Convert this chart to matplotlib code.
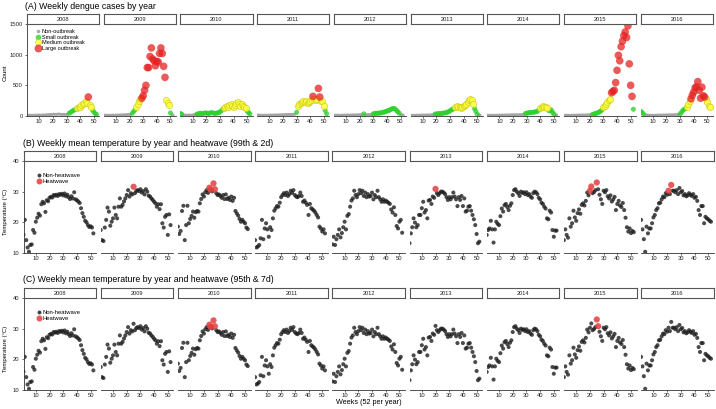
import numpy as np
import matplotlib.pyplot as plt
from matplotlib.lines import Line2D

plt.rcParams['font.family'] = ['Liberation Sans', 'DejaVu Sans']

years = [2008, 2009, 2010, 2011, 2012, 2013, 2014, 2015, 2016]
weeks = np.arange(1, 53)
week_ticks = [10, 20, 30, 40, 50]

# --- weekly dengue cases ---
cases_2008 = [12, 10, 14, 11, 9, 13, 12, 15, 14, 16, 13, 15, 18, 17, 20, 19, 22, 25, 24, 28,
              30, 26, 28, 32, 30, 27, 25, 28, 24, 26, 30,
              45, 60, 75, 90, 100, 110, 125, 140, 150, 175, 195, 220, 240, 210, 310, 175, 150,
              100, 70, 40, 25]
cases_2009 = [15, 12, 14, 10, 12, 11, 13, 15, 12, 14, 16, 15, 18, 17, 20, 18, 22, 21, 25, 24, 28,
              45, 75, 100, 150, 200, 240, 270,
              290, 330, 420, 500, 790, 790, 970, 1110, 930, 900, 820, 890, 880, 1020, 1110, 1020,
              810, 630,
              260, 220, 175, 50, 20, 15]
cases_2010 = [40, 30,
              18, 15, 14, 12, 16, 15, 13, 17, 20, 22,
              30, 35, 40, 45, 38, 42, 50, 48, 45, 40, 52, 55, 48, 42, 45, 50, 55,
              65, 85, 105,
              125, 145, 165, 150, 175, 190, 160, 140, 185, 215, 230, 200, 165, 195, 170, 140, 125,
              80, 55, 35]
cases_2011 = [18, 15, 14, 12, 13, 11, 14, 12, 15, 13, 16, 14, 15, 17, 16, 18, 17, 20, 19, 22,
              20, 24, 22, 25, 23, 26, 24, 28, 30,
              60,
              160, 190, 220, 235, 250, 225, 240, 215, 230, 240, 260,
              320, 270, 260, 280, 450, 310,
              250, 240, 160, 90, 35]
cases_2012 = [15, 12, 14, 13, 11, 12, 14, 13, 15, 14, 16, 15, 17, 16, 18, 17, 19, 18, 20, 19,
              22, 21, 35, 22, 20, 23, 21, 24, 25,
              35, 40, 45, 42, 50, 45, 55, 60, 65, 70, 80, 90, 95, 110, 120, 125, 115, 90, 70, 45,
              25, 20, 15]
cases_2013 = [15, 12, 13, 11, 12, 14, 13, 15, 14, 16, 15, 17, 16, 18, 17, 20, 19, 22,
              30, 35, 35, 40, 40, 45, 45, 50, 55, 60, 70, 85, 100, 110, 120,
              140, 160, 150, 140, 130, 150, 160, 180, 200, 230, 265, 280, 255, 200,
              120, 75, 30, 20, 15]
cases_2014 = [14, 12, 13, 11, 12, 10, 13, 12, 14, 13, 15, 14, 16, 15, 17, 16, 18, 17, 19, 18,
              20, 19, 21, 20, 22, 21, 24, 25,
              40, 45, 50, 55, 55, 60, 60, 65, 70, 80, 100,
              130, 150, 160, 150, 140, 130,
              90, 85, 100, 60, 30, 20, 15]
cases_2015 = [14, 12, 13, 11, 12, 10, 13, 12, 14, 13, 15, 14, 16, 15, 17, 16, 18, 17, 19, 20, 22,
              25, 30, 40, 45, 55, 65, 80, 100,
              150, 170, 200, 230, 260, 280,
              380, 400, 420, 545, 745, 990, 900, 1130, 1220, 1310, 1370, 1280, 1470, 850, 500, 320,
              110]
cases_2016 = [80, 60, 35,
              20, 18, 15, 14, 12, 13, 11, 12, 14, 13, 15, 14, 16, 15, 17, 16, 18, 17, 19, 18,
              20, 19, 21, 22, 24, 25,
              35, 60, 90, 110, 120,
              150, 190, 250,
              280, 340, 390, 460, 475, 560, 420, 290, 470, 330, 310,
              270, 230, 160, 150]

# outbreak level per week: n = non, s = small, m = medium, l = large
levels_2008 = 'n' * 31 + 's' * 6 + 'm' * 8 + 'l' + 'm' * 2 + 's' * 4
levels_2009 = 'n' * 21 + 's' * 3 + 'm' * 4 + 'l' * 18 + 'm' * 3 + 's' + 'n' * 2
levels_2010 = 's' * 2 + 'n' * 10 + 's' * 20 + 'm' * 17 + 's' * 3
levels_2011 = 'n' * 29 + 's' + 'm' * 11 + 'l' + 'm' * 3 + 'l' * 2 + 'm' * 3 + 's' * 2
levels_2012 = 'n' * 22 + 's' + 'n' * 6 + 's' * 20 + 'n' * 3
levels_2013 = 'n' * 18 + 's' * 15 + 'm' * 14 + 's' * 3 + 'n' * 2
levels_2014 = 'n' * 28 + 's' * 11 + 'm' * 6 + 's' * 5 + 'n' * 2
levels_2015 = 'n' * 21 + 's' * 8 + 'm' * 6 + 'l' * 16 + 's'
levels_2016 = 's' * 3 + 'n' * 26 + 's' * 5 + 'm' * 3 + 'l' * 11 + 'm' * 4

# --- weekly mean temperature (deg C) ---
temp_2008 = [16.0, 20.8, 14.2, 11.8, 10.4, 12.6, 12.8, 17.5, 16.6, 20.2, 21.5, 22.8, 22.2, 25.9,
             26.7, 26.2, 23.4, 27.2, 26.9, 28.0, 28.3, 28.1, 28.9, 28.7, 29.0, 28.6, 29.2, 29.0,
             29.3, 28.8, 29.4, 28.5, 29.0, 28.2, 27.6, 28.5, 27.8, 29.8, 27.5, 27.2, 26.8, 26.3,
             24.6, 23.0, 21.8, 20.5, 20.0, 19.1, 18.5, 18.7, 18.3, 16.4]
temp_2009 = [17.5, 14.2, 13.9, 18.3, 20.8, 24.8, 23.5, 18.9, 20.2, 21.3, 24.8, 22.4, 21.3, 25.1,
             27.8, 25.1, 25.7, 26.8, 27.8, 28.9, 30.5, 28.4, 29.5, 29.1, 31.6, 29.5, 30.2, 30.5,
             30.2, 30.8, 29.7, 30.2, 29.1, 30.8, 30.0, 28.7, 28.4, 27.8, 27.3, 26.7, 26.2, 25.1,
             25.9, 24.3, 25.9, 19.7, 18.3, 21.8, 22.4, 15.9, 22.6, 19.1]
temp_2010 = [18.6, 16.2, 17.2, 23.7, 25.4, 14.2, 19.1, 25.4, 19.7, 21.1, 22.1, 23.5, 21.5, 23.3,
             23.7, 23.5, 26.2, 27.6, 29.1, 28.4, 29.8, 30.5, 29.6, 31.3, 30.6, 30.1, 32.7, 30.8,
             29.5, 28.9, 29.1, 28.6, 28.0, 28.9, 27.6, 29.1, 27.6, 28.0, 27.3, 28.4, 27.0, 28.0,
             23.7, 22.9, 22.2, 21.1, 20.2, 20.8, 20.2, 19.7, 18.3, 17.8]
temp_2011 = [14.2, 11.8, 12.1, 12.6, 14.8, 20.8, 14.5, 18.0, 19.7, 17.7, 15.3, 18.4, 17.5, 21.3,
             23.8, 24.6, 25.3, 25.1, 26.4, 28.2, 28.9, 29.5, 28.9, 29.7, 28.6, 29.2, 30.3, 29.6,
             30.5, 28.9, 28.4, 28.2, 28.6, 29.7, 28.6, 26.7, 27.1, 26.4, 25.7, 22.4, 26.0, 24.6,
             24.2, 23.8, 23.2, 22.4, 21.6, 18.6, 18.0, 17.0, 17.7, 16.4]
temp_2012 = [12.8, 15.3, 12.6, 14.5, 15.9, 17.7, 15.1, 16.5, 18.4, 20.2, 17.7, 22.1, 22.7, 25.1,
             27.1, 27.8, 30.3, 28.9, 28.2, 29.2, 30.5, 29.5, 30.3, 28.6, 29.7, 28.2, 29.2, 28.4,
             28.6, 29.7, 27.5, 28.9, 28.2, 30.3, 28.2, 27.5, 26.7, 27.5, 26.7, 27.1, 26.7, 26.4,
             26.0, 24.2, 23.2, 24.9, 22.4, 18.8, 18.0, 20.2, 20.8, 16.6]
temp_2013 = [13.2, 16.4, 18.4, 21.3, 19.9, 18.4, 19.1, 22.4, 22.4, 24.6, 26.7, 23.2, 24.0, 21.3,
             27.1, 27.3, 26.0, 28.4, 28.0, 30.9, 29.5, 28.9, 29.5, 30.0, 30.0, 29.7, 29.2, 28.2,
             27.3, 28.2, 27.5, 28.2, 29.7, 28.4, 27.5, 25.3, 28.2, 27.3, 28.6, 25.3, 27.8, 23.5,
             23.8, 25.1, 25.3, 23.8, 22.4, 21.0, 19.1, 16.2, 13.2, 13.7]
temp_2014 = [15.9, 17.5, 18.0, 20.5, 17.7, 13.4, 17.7, 20.2, 19.5, 19.1, 22.0, 24.5, 23.5, 25.6,
             26.0, 25.0, 24.0, 25.4, 26.2, 28.9, 30.5, 30.8, 30.0, 29.5, 28.6, 30.0, 29.6, 29.8,
             29.2, 29.8, 28.9, 29.2, 28.4, 28.0, 29.5, 30.0, 29.8, 29.2, 28.0, 27.5, 26.4, 26.0,
             25.1, 24.5, 21.3, 21.0, 23.8, 23.2, 17.5, 15.3, 17.3, 17.3]
temp_2015 = [14.2, 17.7, 15.9, 15.0, 21.3, 18.6, 19.7, 23.8, 21.6, 20.5, 23.0, 24.2, 22.8, 25.7,
             26.2, 25.5, 27.0, 29.7, 28.8, 30.3, 31.7, 29.5, 29.9, 30.5, 33.0, 30.8, 29.0, 27.5,
             26.0, 30.3, 29.8, 30.5, 28.5, 27.8, 28.8, 26.8, 27.5, 28.3, 24.0, 26.0, 27.0, 25.5,
             25.0, 26.3, 24.0, 21.5, 18.4, 17.0, 18.0, 16.5, 17.2, 16.8]
temp_2016 = [20.8, 17.7, 14.5, 10.4, 18.6, 16.4, 18.0, 18.0, 19.7, 21.6, 22.4, 24.0, 24.6, 26.2,
             26.4, 27.5, 28.4, 28.2, 29.5, 29.0, 30.3, 29.2, 32.2, 30.3, 30.3, 29.8, 30.5, 29.2,
             31.2, 29.8, 30.2, 28.8, 29.2, 28.5, 28.8, 29.5, 29.0, 28.6, 29.2, 28.0, 28.3, 27.0,
             24.0, 22.4, 25.3, 25.3, 19.7, 21.8, 21.3, 21.0, 20.5, 20.2]

# heatwave weeks for the two definitions
heat_99_2d = {2009: [25], 2010: [24, 25, 27, 28], 2013: [20], 2015: [20, 21, 25], 2016: [21, 23]}
heat_95_7d = {2010: [24, 25, 27, 28], 2015: [25, 26]}

cases = [cases_2008, cases_2009, cases_2010, cases_2011, cases_2012,
         cases_2013, cases_2014, cases_2015, cases_2016]
levels = [levels_2008, levels_2009, levels_2010, levels_2011, levels_2012,
          levels_2013, levels_2014, levels_2015, levels_2016]
temps = [temp_2008, temp_2009, temp_2010, temp_2011, temp_2012,
         temp_2013, temp_2014, temp_2015, temp_2016]

level_style = {
    'n': dict(label='Non-outbreak', color='#a3a3a3', s=4.5, ec='none', alpha=0.9),
    's': dict(label='Small outbreak', color='#2fd12f', s=13, ec='none', alpha=0.8),
    'm': dict(label='Medium outbreak', color='#ffff40', s=20, ec='#c9c91a', alpha=0.85),
    'l': dict(label='Large outbreak', color='#e52222', s=30, ec='none', alpha=0.75),
}

# --- figure layout in pixels ---
W, H = 716, 409
fig = plt.figure(figsize=(W / 100, H / 100), dpi=100)
DARK = '#333333'


def px_axes(left, top, width, height):
    return fig.add_axes([left / W, 1 - (top + height) / H, width / W, height / H])


def add_strip(left, top, width, text):
    sax = px_axes(left, top, width, 10)
    sax.set_xticks([])
    sax.set_yticks([])
    for sp in sax.spines.values():
        sp.set_color('#555555')
        sp.set_linewidth(0.8)
    sax.text(0.5, 0.45, text, ha='center', va='center', fontsize=4.1,
             color='#222222', transform=sax.transAxes)


def style_panel(ax, first, ylim, yticks):
    ax.set_xlim(1, 54)
    ax.set_ylim(*ylim)
    ax.set_facecolor('none')
    for s in ['top', 'right']:
        ax.spines[s].set_visible(False)
    ax.spines['bottom'].set_color(DARK)
    ax.spines['bottom'].set_linewidth(0.6)
    ax.set_xticks(week_ticks)
    ax.tick_params(axis='x', length=1.5, width=0.5, pad=1, labelsize=4.2,
                   color=DARK, labelcolor='#222222')
    if first:
        ax.spines['left'].set_color(DARK)
        ax.spines['left'].set_linewidth(0.6)
        ax.set_yticks(yticks)
        ax.tick_params(axis='y', length=1.5, width=0.5, pad=1.5, labelsize=4.2,
                       color=DARK, labelcolor='#222222')
    else:
        ax.spines['left'].set_visible(False)
        ax.set_yticks([])


# ----- (A) dengue cases -----
fig.text(25 / W, 1 - 6.5 / H, '(A) Weekly dengue cases by year', fontsize=6.3,
         ha='left', va='center')
a_left, a_pitch, a_width = 27.0, 76.7, 72.2
a_axes = []
for i, yr in enumerate(years):
    x0 = a_left + i * a_pitch
    ax = px_axes(x0, 24, a_width, 92)
    add_strip(x0, 14, a_width, str(yr))
    lv = np.array(list(levels[i]))
    cs = np.array(cases[i])
    for z, code in enumerate(['n', 's', 'm', 'l']):
        st = level_style[code]
        m = lv == code
        ax.scatter(weeks[m], cs[m], s=st['s'], c=st['color'], edgecolors=st['ec'],
                   linewidths=0.5, alpha=st['alpha'], zorder=2 + z)
    style_panel(ax, i == 0, (0, 1500), [0, 500, 1000, 1500])
    a_axes.append(ax)

fig.text(5.5 / W, 1 - 73 / H, 'Count', rotation=90, fontsize=4.5, ha='center', va='center')

handles = []
for code, ms in zip(['n', 's', 'm', 'l'], [2.2, 3.6, 4.3, 5.2]):
    st = level_style[code]
    handles.append(Line2D([], [], ls='none', marker='o', ms=ms, mfc=st['color'],
                          mec=st['ec'] if st['ec'] != 'none' else st['color'],
                          mew=0.4, alpha=st['alpha'], label=st['label']))
a_axes[0].legend(handles=handles, loc='upper left', bbox_to_anchor=(0.11, 0.945),
                 frameon=False, fontsize=4.0, borderpad=0, borderaxespad=0,
                 handlelength=1.0, handletextpad=0.2, labelspacing=0.12)


# ----- (B) and (C) temperature -----
def temperature_row(title, title_y, top, heat, ylabel_y):
    fig.text(23 / W, 1 - title_y / H, title, fontsize=6.3, ha='left', va='center')
    left, pitch, width = 23.5, 77.2, 72.6
    first_ax = None
    for i, yr in enumerate(years):
        x0 = left + i * pitch
        ax = px_axes(x0, top, width, 92)
        add_strip(x0, top - 10, width, str(yr))
        t = np.array(temps[i])
        hw = np.isin(weeks, heat.get(yr, []))
        ax.scatter(weeks[~hw], t[~hw], s=8.5, c='#1e1e1e', edgecolors='none',
                   alpha=0.8, zorder=2)
        ax.scatter(weeks[hw], t[hw], s=20, c='#e23d3d', edgecolors='none',
                   alpha=0.85, zorder=3)
        style_panel(ax, i == 0, (10, 40), [10, 20, 30, 40])
        if i == 0:
            first_ax = ax
    fig.text(5.5 / W, 1 - ylabel_y / H, 'Temperature (°C)', rotation=90, fontsize=4.3,
             ha='center', va='center')
    hh = [Line2D([], [], ls='none', marker='o', ms=2.8, mfc='#1e1e1e', mec='none',
                 alpha=0.85, label='Non-heatwave'),
          Line2D([], [], ls='none', marker='o', ms=4.3, mfc='#e23d3d', mec='none',
                 alpha=0.85, label='Heatwave')]
    first_ax.legend(handles=hh, loc='upper left', bbox_to_anchor=(0.17, 0.87),
                    frameon=False, fontsize=4.2, borderpad=0, borderaxespad=0,
                    handlelength=1.0, handletextpad=0.1, labelspacing=0.1)


temperature_row('(B) Weekly mean temperature by year and heatwave (99th & 2d)',
                143.7, 161, heat_99_2d, 212)
temperature_row('(C) Weekly mean temperature by year and heatwave (95th & 7d)',
                280, 298, heat_95_7d, 349)

fig.text(368.7 / W, 1 - 403 / H, 'Weeks (52 per year)', fontsize=5.2,
         ha='center', va='center')

fig.savefig('out.png', dpi=100)
